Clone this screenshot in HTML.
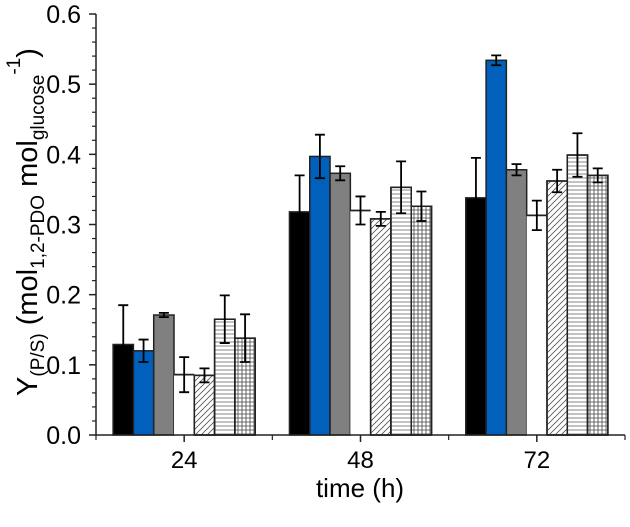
<!DOCTYPE html>
<html><head><meta charset="utf-8"><style>
html,body{margin:0;padding:0;background:#fff;}
svg{display:block;font-family:"Liberation Sans",sans-serif;}
</style></head><body>
<svg id="chart" width="630" height="527" viewBox="0 0 630 527" xmlns="http://www.w3.org/2000/svg">
<defs>
<pattern id="pDiag" patternUnits="userSpaceOnUse" width="6" height="6"><path d="M-1,7 L7,-1 M-1,1 L1,-1 M5,7 L7,5" stroke="#555" stroke-width="0.8"/></pattern>
<pattern id="pHoriz" patternUnits="userSpaceOnUse" width="6" height="4"><path d="M0,2 H6" stroke="#666" stroke-width="0.8"/></pattern>
<pattern id="pGrid" patternUnits="userSpaceOnUse" width="4" height="4"><path d="M0,2 H4 M2,0 V4" stroke="#444" stroke-width="0.8"/></pattern>
</defs>
<g id="plot"></g>
<text x="360" y="497" font-size="26" text-anchor="middle">time (h)</text>
<text transform="translate(37,222) rotate(-90)" font-size="29" text-anchor="middle">Y<tspan font-size="19" dy="7">(P/S)</tspan><tspan dy="-7"> (mol</tspan><tspan font-size="19" dy="7">1,2-PDO</tspan><tspan dy="-7"> mol</tspan><tspan font-size="19" dy="7">glucose</tspan><tspan font-size="19" dy="-24">-1</tspan><tspan dy="17">)</tspan></text>
</svg>
<script>
const categories = ["24","48","72"];
const seriesNames = ["black","blue","gray","white","diagonal","horizontal","grid"];
const s1 = [0.129,0.318,0.338];
const s2 = [0.120,0.397,0.534];
const s3 = [0.171,0.373,0.378];
const s4 = [0.086,0.320,0.313];
const s5 = [0.085,0.308,0.362];
const s6 = [0.165,0.353,0.399];
const s7 = [0.138,0.326,0.370];
const e1 = [0.056,0.052,0.057];
const e2 = [0.016,0.031,0.007];
const e3 = [0.003,0.010,0.008];
const e4 = [0.025,0.020,0.021];
const e5 = [0.010,0.010,0.016];
const e6 = [0.034,0.037,0.031];
const e7 = [0.034,0.021,0.010];
const yTicks = ["0.0","0.1","0.2","0.3","0.4","0.5","0.6"];

const NS="http://www.w3.org/2000/svg";
const g=document.getElementById('plot');
const X0=96,X1=625,Y0=435,Y1=14,YMAX=0.6;
const band=(X1-X0)/categories.length;
const y=v=>Y0-(v/YMAX)*(Y0-Y1);
const xc=i=>X0+band*(i+0.5);
const BW=20.3;
const fills=["#000","#0060bb","#808080","#fff","url(#pDiag)","url(#pHoriz)","url(#pGrid)"];
const series=[s1,s2,s3,s4,s5,s6,s7], errs=[e1,e2,e3,e4,e5,e6,e7];
function mk(t,a){const el=document.createElementNS(NS,t);for(const k in a)el.setAttribute(k,a[k]);g.appendChild(el);return el;}
categories.forEach((c,i)=>{
  series.forEach((s,j)=>{
    const x=xc(i)+(j-3.5)*BW;
    const r=mk('rect',{x:x,y:y(s[i]),width:BW,height:Y0-y(s[i]),fill:j>=4?"#fff":fills[j],stroke:j==3?"none":"#222","stroke-width":1.5});
    
    
    if(j==3){const tl=mk('line',{x1:x,x2:x+BW,y1:y(s[i]),y2:y(s[i]),stroke:"#222","stroke-width":1.8});
      
      }
    if(j>=4){const p=mk('rect',{x:x,y:y(s[i]),width:BW,height:Y0-y(s[i]),fill:fills[j],stroke:"#222","stroke-width":1.5});
      
      }
  });
});
categories.forEach((c,i)=>{
  series.forEach((s,j)=>{
    const cx=xc(i)+(j-3)*BW, top=y(s[i]+errs[j][i]), bot=y(s[i]-errs[j][i]);
    const e=mk('path',{d:`M${cx},${top}V${bot}M${cx-5},${top}H${cx+5}M${cx-5},${bot}H${cx+5}`,stroke:"#000","stroke-width":1.8,fill:"none"});
    
    
  });
});
const ax=mk('path',{d:`M${X0},${Y1}V${Y0}H${X1}`,stroke:"#222","stroke-width":1.5,fill:"none"});


yTicks.forEach((t,k)=>{
  const v=parseFloat(t), yy=y(v);
  const tk=mk('line',{x1:X0-7,x2:X0,y1:yy,y2:yy,stroke:"#222","stroke-width":1.5});
  
  
  const tx=mk('text',{x:X0-15,y:yy+9,"font-size":25,"text-anchor":"end"});
  tx.textContent=t;
  
  
  if(k<yTicks.length-1){for(let m=1;m<5;m++){const ym=y(v+m*0.02);
    const mt=mk('line',{x1:X0-4,x2:X0,y1:ym,y2:ym,stroke:"#222","stroke-width":1.2});
    
    }}
});
categories.forEach((c,i)=>{
  const tk=mk('line',{x1:xc(i),x2:xc(i),y1:Y0,y2:Y0+7,stroke:"#222","stroke-width":1.5});
  
  
  const tx=mk('text',{x:xc(i),y:Y0+33,"font-size":24,"text-anchor":"middle"});
  tx.textContent=c;
  
  
});
for(let i=0;i<=categories.length;i++){const xx=X0+band*i;
  const mt=mk('line',{x1:xx,x2:xx,y1:Y0,y2:Y0+5,stroke:"#222","stroke-width":1.2});
  
  }
</script>
</body></html>
